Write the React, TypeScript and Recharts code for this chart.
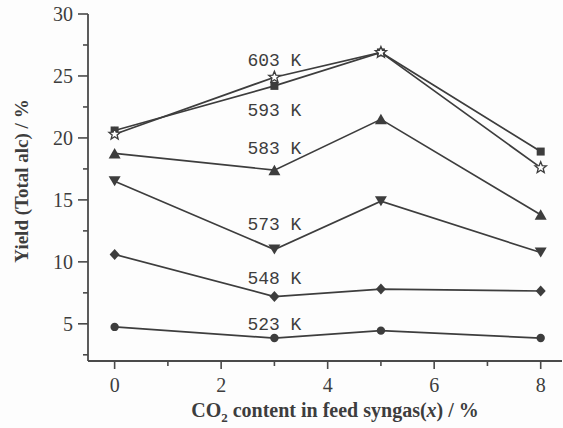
import { Line, LineChart, ReferenceDot, XAxis, YAxis } from 'recharts'

const co2 = [0, 3, 5, 8]
const k523 = [4.75, 3.85, 4.45, 3.85]
const k548 = [10.6, 7.2, 7.8, 7.65]
const k573 = [16.5, 11.0, 14.9, 10.75]
const k583 = [18.75, 17.4, 21.5, 13.8]
const k593 = [20.6, 24.2, 26.9, 18.9]
const k603 = [20.3, 24.9, 26.9, 17.6]

const seriesNames = ['523 K', '548 K', '573 K', '583 K', '593 K', '603 K']
const labelX = [3, 3, 3, 3, 3, 3]
const labelY = [5.0, 8.7, 13.1, 19.25, 22.3, 26.3]

const xTicks = [0, 1, 2, 3, 4, 5, 6, 7, 8]
const yTicks = [2.5, 5, 7.5, 10, 12.5, 15, 17.5, 20, 22.5, 25, 27.5, 30]

const data = co2.map((x, i) => ({
  x,
  k523: k523[i],
  k548: k548[i],
  k573: k573[i],
  k583: k583[i],
  k593: k593[i],
  k603: k603[i],
}))

const ink = '#3d3d3d'
const axisInk = '#4a4a4a'
const serif = '"Liberation Serif", "DejaVu Serif", serif'

type DotProps = { cx?: number; cy?: number; index?: number }

const circleDot = ({ cx = 0, cy = 0, index }: DotProps) => (
  <circle key={index} cx={cx} cy={cy} r={4.2} fill={ink} />
)

const diamondDot = ({ cx = 0, cy = 0, index }: DotProps) => (
  <polygon
    key={index}
    points={`${cx},${cy - 5.5} ${cx + 5},${cy} ${cx},${cy + 5.5} ${cx - 5},${cy}`}
    fill={ink}
  />
)

const downDot = ({ cx = 0, cy = 0, index }: DotProps) => (
  <polygon
    key={index}
    points={`${cx - 6},${cy - 5} ${cx + 6},${cy - 5} ${cx},${cy + 5}`}
    fill={ink}
  />
)

const upDot = ({ cx = 0, cy = 0, index }: DotProps) => (
  <polygon
    key={index}
    points={`${cx - 6},${cy + 5} ${cx + 6},${cy + 5} ${cx},${cy - 5.5}`}
    fill={ink}
  />
)

const squareDot = ({ cx = 0, cy = 0, index }: DotProps) => (
  <rect key={index} x={cx - 4} y={cy - 4} width={8} height={8} fill={ink} />
)

const starDot = ({ cx = 0, cy = 0, index }: DotProps) => {
  const pts: string[] = []
  for (let i = 0; i < 10; i++) {
    const r = i % 2 === 0 ? 6 : 2.6
    const a = -Math.PI / 2 + (i * Math.PI) / 5
    pts.push(`${cx + r * Math.cos(a)},${cy + r * Math.sin(a)}`)
  }
  return (
    <polygon
      key={index}
      points={pts.join(' ')}
      fill='#ffffff'
      stroke={ink}
      strokeWidth={1.3}
    />
  )
}

const XTick = (props: any) => {
  const { x, y, payload } = props
  const major = payload.value % 2 === 0
  return (
    <g>
      <line x1={x} y1={y} x2={x} y2={y + (major ? 8 : 5)} stroke={axisInk} strokeWidth={1.6} />
      {major && (
        <text x={x} y={y + 31} textAnchor='middle' fontFamily={serif} fontSize={20} fill={ink}>
          {payload.value}
        </text>
      )}
    </g>
  )
}

const YTick = (props: any) => {
  const { x, y, payload } = props
  const major = payload.value % 5 === 0
  return (
    <g>
      <line x1={x} y1={y} x2={x - (major ? 10 : 5)} y2={y} stroke={axisInk} strokeWidth={1.6} />
      {major && (
        <text x={x - 15} y={y + 7} textAnchor='end' fontFamily={serif} fontSize={20} fill={ink}>
          {payload.value}
        </text>
      )}
    </g>
  )
}

const series = [
  { key: 'k523', dot: circleDot },
  { key: 'k548', dot: diamondDot },
  { key: 'k573', dot: downDot },
  { key: 'k583', dot: upDot },
  { key: 'k593', dot: squareDot },
  { key: 'k603', dot: starDot },
]

export default function App() {
  return (
    <div style={{ position: 'absolute', left: 0, top: 0, width: 563, height: 428, background: '#fdfdfd' }}>
      <LineChart width={563} height={428} data={data} margin={{ top: 14, right: 1, bottom: 0, left: 0 }}>
        <XAxis
          xAxisId='top'
          orientation='top'
          dataKey='x'
          type='number'
          domain={[-0.5, 8.4]}
          tick={false}
          tickLine={false}
          height={0}
          stroke={axisInk}
          strokeWidth={1.8}
        />
        <YAxis
          yAxisId='right'
          orientation='right'
          type='number'
          domain={[2, 30]}
          tick={false}
          tickLine={false}
          width={0}
          stroke='#c8c8c8'
          strokeWidth={1}
        />
        <XAxis
          dataKey='x'
          type='number'
          domain={[-0.5, 8.4]}
          ticks={xTicks}
          interval={0}
          tickSize={0}
          tickMargin={0}
          tick={<XTick />}
          height={67}
          stroke={axisInk}
          strokeWidth={1.8}
          allowDataOverflow
          label={{
            content: (p: any) => {
              const vb = p.viewBox
              return (
                <text
                  x={vb.x + vb.width / 2 + 10}
                  y={vb.y + 56}
                  textAnchor='middle'
                  fontFamily={serif}
                  fontWeight='bold'
                  fontSize={20}
                  fill={ink}
                >
                  CO
                  <tspan fontSize={13} dy={5}>2</tspan>
                  <tspan dy={-5}> content in feed syngas(</tspan>
                  <tspan fontStyle='italic'>x</tspan>
                  <tspan>) / %</tspan>
                </text>
              )
            },
          }}
        />
        <YAxis
          type='number'
          domain={[2, 30]}
          ticks={yTicks}
          interval={0}
          tickSize={0}
          tickMargin={0}
          tick={<YTick />}
          width={88}
          stroke={axisInk}
          strokeWidth={1.8}
          allowDataOverflow
          label={{
            content: (p: any) => {
              const vb = p.viewBox
              const cx = vb.x + 28
              const cy = 181
              return (
                <text
                  x={cx}
                  y={cy}
                  transform={`rotate(-90, ${cx}, ${cy})`}
                  textAnchor='middle'
                  fontFamily={serif}
                  fontWeight='bold'
                  fontSize={19}
                  fill={ink}
                >
                  Yield (Total alc) / %
                </text>
              )
            },
          }}
        />
        {series.map((s) => (
          <Line
            key={s.key}
            dataKey={s.key}
            type='linear'
            stroke={ink}
            strokeWidth={1.7}
            dot={s.dot}
            activeDot={false}
            isAnimationActive={false}
          />
        ))}
        {seriesNames.map((name, i) => (
          <ReferenceDot
            key={name}
            x={labelX[i]}
            y={labelY[i]}
            r={0}
            fill='none'
            stroke='none'
            label={{
              value: name,
              position: 'center',
              fontFamily: '"Liberation Mono", "DejaVu Sans Mono", monospace',
              fontSize: 18,
              fill: ink,
            }}
          />
        ))}
      </LineChart>
    </div>
  )
}
